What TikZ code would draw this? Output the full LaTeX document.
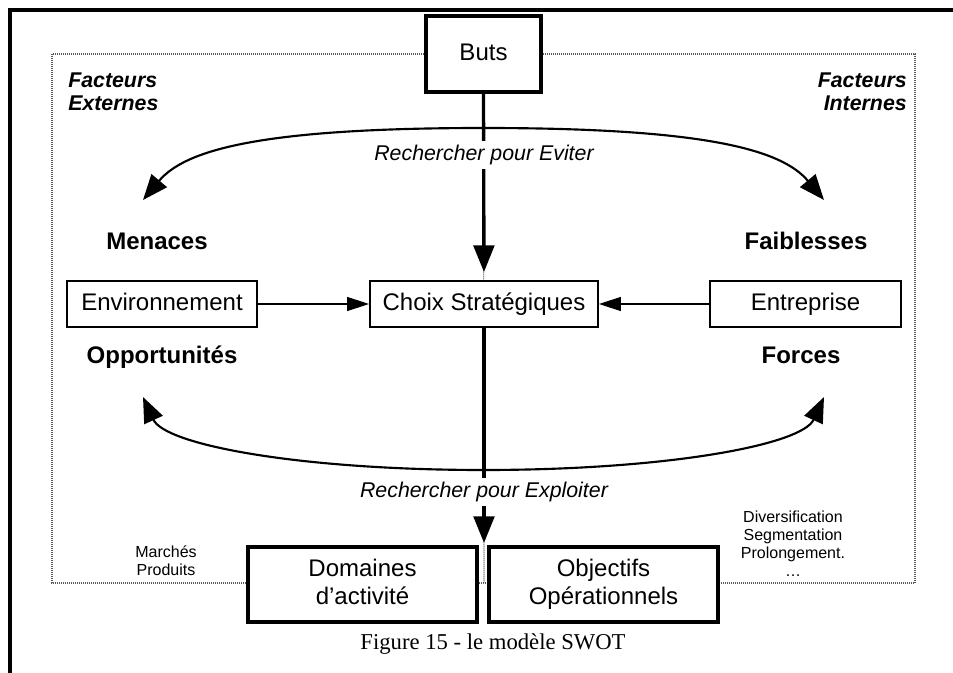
\documentclass[tikz,border=0pt]{standalone}
\usepackage{fontspec}
\setmainfont{Liberation Serif}
\newfontfamily\arial{Liberation Sans}
\usetikzlibrary{arrows.meta}
\begin{document}
\begin{tikzpicture}[x=0.75pt,y=-0.75pt,
  dotline/.style={draw=black!65, line width=0.8pt, dash pattern=on 0.75pt off 0.75pt},
  box/.style={draw, line width=1.4pt, fill=white, inner sep=0pt, minimum height=34.5pt,
    text height=13pt, text depth=3.8pt,
    font=\arial\fontsize{18}{21}\selectfont},
  bigbox/.style={draw, line width=2.5pt, fill=white, inner sep=0pt, align=center,
    font=\arial\fontsize{18}{21}\selectfont},
  lab/.style={font=\arial\bfseries\fontsize{18}{21}\selectfont, inner sep=0pt,
    text height=13pt, text depth=3.8pt},
  via/.style={fill=white, inner sep=3pt, text height=11.5pt, text depth=3.4pt,
    font=\arial\itshape\fontsize{16}{19}\selectfont},
  side/.style={inner sep=0pt, font=\arial\bfseries\itshape\fontsize{16}{17.25}\selectfont},
  note/.style={inner sep=0pt, align=center, font=\arial\fontsize{12}{13.5}\selectfont},
  thickarrow/.style={line width=2.5pt, -{Triangle[length=20pt,width=15.5pt]}},
  thinarrow/.style={line width=0.9pt, -{Triangle[length=16.5pt,width=10.5pt]}},
  curvearrow/.style={line width=1.6pt, {Triangle[length=19pt,width=15pt]}-{Triangle[length=19pt,width=15pt]}}
]
\useasboundingbox (0,0) rectangle (953,673);
% outer frame (top and left)
\draw[line width=2.3pt] (953,10) -- (10,10) -- (10,673);
% dotted area
\draw[dotline] (52,54) rectangle (915,583);
\coordinate (botmid) at (484,583);

% nodes
\node[bigbox, minimum width=86.25pt, minimum height=57pt, text height=13pt, text depth=3.8pt] (buts) at (483.5,54) {Buts};
\draw[dotline] (buts.south) -- (botmid);
\node[box, minimum width=171pt] (choix) at (484,304) {Choix Stratégiques};
\node[box, minimum width=142.5pt] (env) at (162,304) {Environnement};
\node[box, minimum width=143.25pt] (ent) at (805.5,304) {Entreprise};
\node[bigbox, minimum width=171.75pt, minimum height=56.25pt] (dom) at (362.5,584.5) {Domaines\strut\\d’activité\strut};
\node[bigbox, minimum width=171.75pt, minimum height=56.25pt] (obj) at (603.5,584.5) {Objectifs\strut\\Opérationnels\strut};

\node[lab] (men) at (157,243) {Menaces};
\node[lab] (opp) at (162,357) {Opportunités};
\node[lab] (fai) at (806,243) {Faiblesses};
\node[lab] (for) at (801,357) {Forces};

\node[side, anchor=west, align=left] (fe) at (68,91.5) {Facteurs\\Externes};
\node[side, anchor=east, align=right] (fi) at (907,91.5) {Facteurs\\Internes};

\node[note] (mp) at (166,561) {Marchés\\Produits};
\node[note] (div) at (793,544) {Diversification\\Segmentation\\Prolongement.\\…};

% curved arrows
\coordinate (tl) at (143,200);
\coordinate (tr) at (824,200);
\coordinate (bl) at (143,397);
\coordinate (br) at (824,397);
\draw[curvearrow] (tl) .. controls (185,150) and (260,128) .. (483.5,128)
   .. controls (707,128) and (782,150) .. (tr);
\draw[curvearrow] (bl) .. controls (165,445) and (300,470) .. (483.5,470)
   .. controls (667,470) and (802,445) .. (br);

% straight arrows
\draw[thickarrow, shorten >=6pt] (buts.south) -- (choix.north);
\coordinate (tipb) at (484,543);
\draw[thickarrow] (choix.south) -- (tipb);
\draw[thinarrow] (env.east) -- (choix.west);
\draw[thinarrow] (ent.west) -- (choix.east);

\node[via] (ev) at (484,155) {Rechercher pour Eviter};
\node[via] (ex) at (484,492) {Rechercher pour Exploiter};

% caption
\node[inner sep=0pt, font=\fontsize{17}{20}\selectfont] (cap) at (493,644) {Figure 15 - le modèle SWOT};
\end{tikzpicture}
\end{document}
